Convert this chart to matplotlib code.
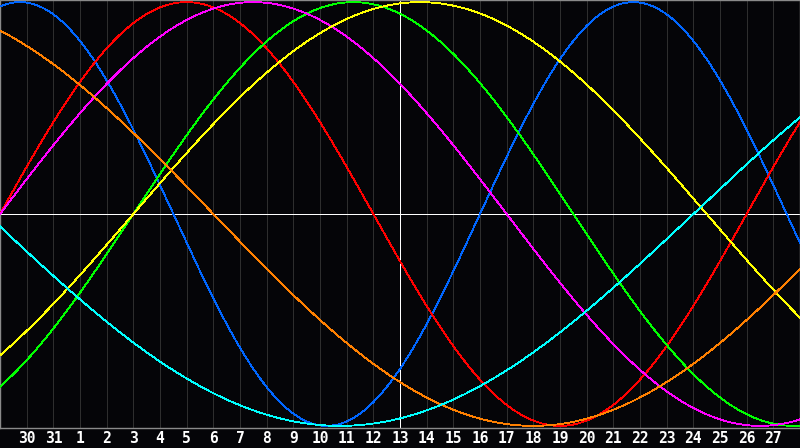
import numpy as np
import matplotlib
matplotlib.use("Agg")
import matplotlib.pyplot as plt

# biorhythm cycles (days) and their colours
periods = [23, 28, 33, 38, 43, 48, 53]
colors = ["#0066ff", "#ff0000", "#00ff00", "#ff00ff", "#ffff00", "#ff8000", "#00ffff"]

# days lived at the left edge of the chart
days_at_start = 21280
n_days = 30

day_labels = [30, 31, 1, 2, 3, 4, 5, 6, 7, 8, 9, 10, 11, 12, 13, 14,
              15, 16, 17, 18, 19, 20, 21, 22, 23, 24, 25, 26, 27]

bg = "#050508"

fig = plt.figure(figsize=(8, 4.48), dpi=100, facecolor=bg)
ax = fig.add_axes([0, 20 / 448, 1, 428 / 448])
ax.set_facecolor(bg)

t = np.linspace(0, n_days, 1601)
for p, c in zip(periods, colors):
    y = np.sin(2 * np.pi * (days_at_start + t) / p)
    ax.plot(t, y, color=c, lw=0.6, antialiased=False, zorder=3)

# day grid
for i in range(1, n_days):
    ax.axvline(i, color="#2e2e2e", lw=0.6, antialiased=False, zorder=1)

ax.axhline(0, color="white", lw=0.7, antialiased=False, zorder=2)
ax.axvline(n_days / 2, color="white", lw=0.7, antialiased=False, zorder=2)

ax.set_xlim(0, n_days)
ax.set_ylim(-1.01, 1.01)
ax.set_xticks([])
ax.set_yticks([])
for s in ax.spines.values():
    s.set_color("#8a8a8a")
    s.set_linewidth(1.0)

for i, lab in enumerate(day_labels, start=1):
    ax.text(i, -1.01 - 0.048, str(lab), color="white", ha="center", va="center",
            fontsize=10.5, fontweight="bold", family="DejaVu Sans Mono",
            clip_on=False)

fig.savefig("out.png", dpi=100, facecolor=bg)
